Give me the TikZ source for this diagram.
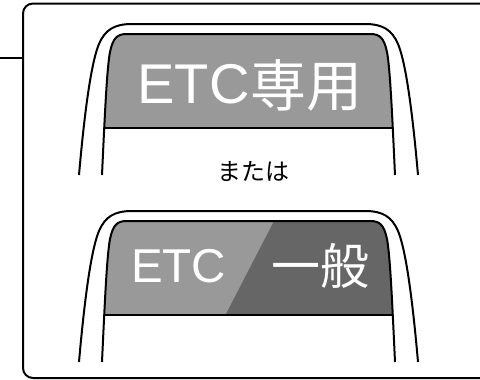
\documentclass[tikz,border=0pt]{standalone}
\usepackage{fontspec}
\setmainfont{Noto Sans CJK JP}
\newfontfamily\latinfont{Liberation Sans}
\definecolor{midgray}{HTML}{999999}
\definecolor{darkgray}{HTML}{666666}
\begin{document}
\begin{tikzpicture}[x=1pt,y=-1pt,line width=2pt,
  signtext/.style={text=white,inner sep=0pt},
  plain/.style={text=black,inner sep=0pt}]
\useasboundingbox (0,0) rectangle (480,380);
\clip (0,0) rectangle (480,380);
\def\innerpath{(102,175) .. controls (105,110) and (107,68) .. (110,52) .. controls (113,38) and (117,34) .. (127,34) -- (370,34) .. controls (380,34) and (384,38) .. (387,52) .. controls (390,68) and (392,110) .. (395,175)}
\def\outerpath{(79,175) .. controls (86,95) and (93,58) .. (99,44) .. controls (105,30) and (114,24) .. (132,24) -- (365,24) .. controls (383,24) and (392,30) .. (398,44) .. controls (404,58) and (411,95) .. (418,175)}
% frame
\draw[rounded corners=10pt] (23,3.5) rectangle (510,378);
\coordinate (lstart) at (0,58);
\coordinate (lend) at (23,58);
\draw (lstart) -- (lend);
% upper sign
\begin{scope}
  \begin{scope}
    \clip (0,0) rectangle (480,128);
    \fill[midgray] \innerpath -- cycle;
  \end{scope}
  \begin{scope}
    \clip \innerpath -- cycle;
    \draw (0,128) -- (480,128);
  \end{scope}
  \draw \innerpath;
  \draw \outerpath;
\end{scope}
\node[signtext,anchor=base,font=\latinfont\fontsize{56}{56}\selectfont] (t1a) at (193.5,103) {ETC};
\node[signtext,font=\fontsize{56}{56}\selectfont] (t1b) at (306.5,85) {専用};
\node[plain,font=\fontsize{24}{24}\selectfont] (or) at (253,172) {または};
% lower sign
\begin{scope}[shift={(0,187)}]
  \begin{scope}
    \clip (0,0) rectangle (480,128);
    \fill[midgray] \innerpath -- cycle;
    \clip \innerpath -- cycle;
    \fill[darkgray] (276.6,29) -- (223.4,132) -- (480,132) -- (480,29) -- cycle;
  \end{scope}
  \begin{scope}
    \clip \innerpath -- cycle;
    \draw (0,128) -- (480,128);
  \end{scope}
  \draw \innerpath;
  \draw \outerpath;
\end{scope}
\node[signtext,anchor=base,font=\latinfont\fontsize{47.5}{47.5}\selectfont] (t2) at (178.5,282) {ETC};
\node[signtext,font=\fontsize{49}{49}\selectfont] (t3) at (320.5,266) {一般};
\end{tikzpicture}
\end{document}
